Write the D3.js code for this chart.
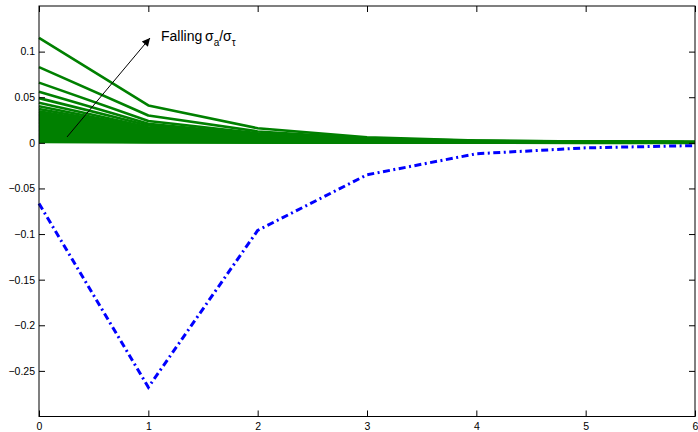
<!DOCTYPE html>
<html>
<head>
<meta charset="utf-8">
<script src="https://cdn.jsdelivr.net/npm/d3@7"></script>
<style>
  body { margin: 0; background: #fff; }
  svg { display: block; }
  .tick text { font-family: "Liberation Sans", Arial, Helvetica, sans-serif; font-size: 10.5px; fill: #000; }
  .tick line { stroke: #000; }
</style>
</head>
<body>
<div id="chart"></div>
<script>
// horizon (quarters)
const horizons = [0, 1, 2, 3, 4, 5, 6];

// green family of responses, one per value of sigma_a / sigma_tau (largest first)
const greenSeries = [
  [0.115, 0.041, 0.0160, 0.0060, 0.0026, 0.0015, 0.0010],
  [0.083, 0.030, 0.0125, 0.0050, 0.0022, 0.0013, 0.0009],
  [0.066, 0.024, 0.0105, 0.0044, 0.0020, 0.0012, 0.0008],
  [0.056, 0.021, 0.0093, 0.0040, 0.0019, 0.0011, 0.0008],
  [0.049, 0.019, 0.0085, 0.0037, 0.0018, 0.0011, 0.0007],
  [0.044, 0.017, 0.0078, 0.0034, 0.0017, 0.0010, 0.0007],
  [0.040, 0.016, 0.0072, 0.0032, 0.0016, 0.0010, 0.0007],
  [0.037, 0.015, 0.0067, 0.0030, 0.0015, 0.0009, 0.0006],
  [0.0345, 0.014, 0.0063, 0.0028, 0.0014, 0.0009, 0.0006],
  [0.0325, 0.0135, 0.0060, 0.0027, 0.0014, 0.0009, 0.0006],
  [0.031, 0.013, 0.0058, 0.0026, 0.0013, 0.0008, 0.0006],
  [0.0295, 0.0125, 0.0055, 0.0025, 0.0013, 0.0008, 0.0005],
  [0.028, 0.012, 0.0053, 0.0024, 0.0012, 0.0008, 0.0005],
  [0.0265, 0.0115, 0.0050, 0.0023, 0.0012, 0.0007, 0.0005],
  [0.025, 0.011, 0.0048, 0.0022, 0.0011, 0.0007, 0.0005],
  [0.0235, 0.0102, 0.0045, 0.0021, 0.0011, 0.0007, 0.0005],
  [0.022, 0.0095, 0.0043, 0.0020, 0.0010, 0.0007, 0.0005],
  [0.0205, 0.0089, 0.0040, 0.0019, 0.0010, 0.0006, 0.0004],
  [0.019, 0.0083, 0.0038, 0.0018, 0.0009, 0.0006, 0.0004],
  [0.0175, 0.0077, 0.0035, 0.0017, 0.0009, 0.0006, 0.0004],
  [0.016, 0.0071, 0.0033, 0.0016, 0.0008, 0.0005, 0.0004],
  [0.0145, 0.0065, 0.0030, 0.0015, 0.0008, 0.0005, 0.0003],
  [0.013, 0.0059, 0.0028, 0.0013, 0.0007, 0.0005, 0.0003],
  [0.0115, 0.0053, 0.0025, 0.0012, 0.0007, 0.0004, 0.0003],
  [0.010, 0.0047, 0.0022, 0.0011, 0.0006, 0.0004, 0.0003],
  [0.0088, 0.0041, 0.0020, 0.0010, 0.0005, 0.0004, 0.0002],
  [0.0075, 0.0036, 0.0017, 0.0009, 0.0005, 0.0003, 0.0002],
  [0.0062, 0.0030, 0.0015, 0.0008, 0.0004, 0.0003, 0.0002],
  [0.005, 0.0025, 0.0012, 0.0006, 0.0003, 0.0002, 0.0002],
  [0.004, 0.0020, 0.0010, 0.0005, 0.0003, 0.0002, 0.0001],
  [0.003, 0.0015, 0.0008, 0.0004, 0.0002, 0.0001, 0.0001],
  [0.002, 0.0010, 0.0005, 0.0003, 0.0001, 0.0001, 0.0001],
  [0.001, 0.0005, 0.0003, 0.0001, 0.0001, 0.0000, 0.0000]
];

// blue dash-dot response
const blueSeries = [-0.0666, -0.268, -0.096, -0.035, -0.0120, -0.0055, -0.0030];

const xTicks = [0, 1, 2, 3, 4, 5, 6];
const yTicks = [0.1, 0.05, 0, -0.05, -0.1, -0.15, -0.2, -0.25];
const yTickLabels = ["0.1", "0.05", "0", "\u22120.05", "\u22120.1", "\u22120.15", "\u22120.2", "\u22120.25"];

const W = 698, H = 432;
const margin = { top: 6, right: 3, bottom: 15.5, left: 39 };
const iw = W - margin.left - margin.right;
const ih = H - margin.top - margin.bottom;

const svg = d3.select('#chart').append('svg')
  .attr('width', W)
  .attr('height', H);

const g = svg.append('g')
  .attr('transform', `translate(${margin.left},${margin.top})`);

const x = d3.scaleLinear().domain([0, 6]).range([0, iw]);
const y = d3.scaleLinear().domain([-0.3, 0.15]).range([ih, 0]);

const line = d3.line()
  .x((d, i) => x(horizons[i]))
  .y(d => y(d));

// green lines, smallest drawn first
g.selectAll('.green')
  .data(greenSeries.slice().reverse())
  .enter()
  .append('path')
  .attr('class', 'green')
  .attr('d', line)
  .attr('fill', 'none')
  .attr('stroke', '#008000')
  .attr('stroke-width', 2.6)
  .attr('stroke-linejoin', 'round');

g.append('path')
  .datum(blueSeries)
  .attr('d', line)
  .attr('fill', 'none')
  .attr('stroke', '#0000ff')
  .attr('stroke-width', 3)
  .attr('stroke-dasharray', '7,3.5,2,3.5');

// axes, ticks pointing inwards on all four sides
const yLabel = d => yTickLabels[yTicks.indexOf(d)];

g.append('g')
  .call(d3.axisLeft(y).tickValues(yTicks).tickFormat(yLabel).tickSizeInner(-6).tickSizeOuter(0).tickPadding(4))
  .call(a => a.select('.domain').remove());

g.append('g')
  .attr('transform', `translate(${iw},0)`)
  .call(d3.axisRight(y).tickValues(yTicks).tickFormat('').tickSizeInner(-6).tickSizeOuter(0))
  .call(a => a.select('.domain').remove());

g.append('g')
  .attr('transform', `translate(0,${ih})`)
  .call(d3.axisBottom(x).tickValues(xTicks).tickFormat(d3.format('d')).tickSizeInner(-6).tickSizeOuter(0).tickPadding(6))
  .call(a => a.select('.domain').remove());

g.append('g')
  .call(d3.axisTop(x).tickValues(xTicks).tickFormat('').tickSizeInner(-6).tickSizeOuter(0))
  .call(a => a.select('.domain').remove());

g.append('rect')
  .attr('width', iw)
  .attr('height', ih)
  .attr('fill', 'none')
  .attr('stroke', '#000')
  .attr('stroke-width', 1);

// annotation arrow
svg.append('defs').append('marker')
  .attr('id', 'head')
  .attr('viewBox', '0 0 10 10')
  .attr('refX', 10)
  .attr('refY', 5)
  .attr('markerWidth', 10)
  .attr('markerHeight', 8)
  .attr('markerUnits', 'userSpaceOnUse')
  .attr('orient', 'auto')
  .append('path')
  .attr('d', 'M0,0 L10,5 L0,10 Z')
  .attr('fill', '#000');

svg.append('line')
  .attr('x1', 67).attr('y1', 137)
  .attr('x2', 150).attr('y2', 38)
  .attr('stroke', '#000')
  .attr('stroke-width', 1)
  .attr('marker-end', 'url(#head)');

const label = svg.append('text')
  .attr('x', 161)
  .attr('y', 41)
  .style('font-family', '"Liberation Sans", Arial, Helvetica, sans-serif')
  .style('font-size', '14px')
  .attr('fill', '#000');

label.append('tspan').text('Falling');
label.append('tspan').attr('x', 205).text('σ');
label.append('tspan').attr('dy', 5).style('font-size', '10px').text('a');
label.append('tspan').attr('dy', -5).text('/σ');
label.append('tspan').attr('dy', 5).style('font-size', '10px').text('τ');
</script>
</body>
</html>
